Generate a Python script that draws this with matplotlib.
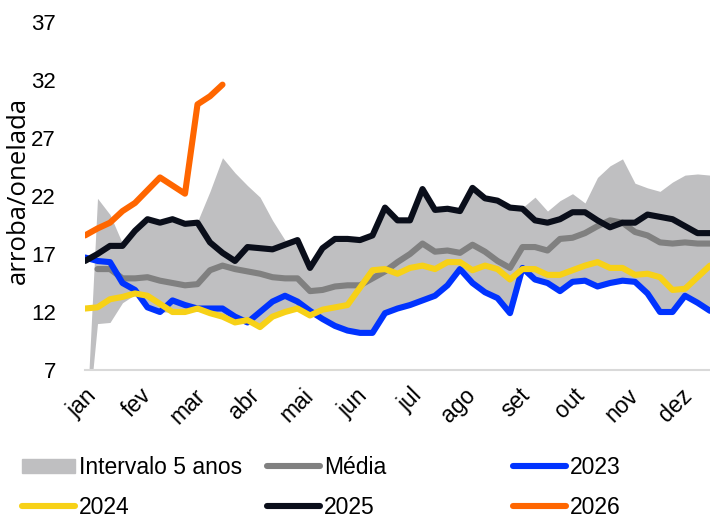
import numpy as np
import matplotlib
matplotlib.use('Agg')
import matplotlib.pyplot as plt
from matplotlib.lines import Line2D
from matplotlib.patches import Patch

# weekly series
months = ['jan', 'fev', 'mar', 'abr', 'mai', 'jun', 'jul', 'ago', 'set', 'out', 'nov', 'dez']

band_lo = [0, 11.0, 11.1, 12.8, 13.5, 12.4, 12.0, 12.0, 12.0, 12.3,
           11.9, 11.6, 11.1, 11.1, 10.7, 11.6, 12.0, 12.3, 11.7, 11.4,
           10.8, 10.4, 10.2, 10.2, 11.9, 12.3, 12.6, 13.0, 13.4, 14.3,
           15.7, 14.5, 13.7, 13.2, 11.9, 15.7, 14.8, 14.5, 13.8, 14.6,
           14.7, 14.2, 14.5, 14.7, 14.6, 13.6, 12.0, 12.0, 13.4, 12.8, 12.1]
band_hi = [0, 21.8, 20.4, 17.9, 19.0, 20.0, 19.7, 20.0, 19.6, 19.8,
           22.4, 25.3, 24.0, 22.9, 21.9, 19.9, 18.2, 18.2, 15.8, 17.5,
           18.3, 18.3, 18.3, 18.9, 21.0, 19.9, 19.9, 22.6, 20.8, 20.9,
           20.7, 22.7, 21.8, 21.6, 21.0, 21.0, 21.9, 20.7, 21.6, 22.2,
           21.4, 23.6, 24.6, 25.2, 23.1, 22.7, 22.4, 23.2, 23.8, 23.9, 23.8]
media = [np.nan, 15.7, 15.7, 14.9, 14.9, 15.0, 14.7, 14.5, 14.3, 14.4,
         15.6, 16.0, 15.7, 15.5, 15.3, 15.0, 14.9, 14.9, 13.8, 13.9,
         14.2, 14.3, 14.3, 14.9, 15.5, 16.3, 17.0, 17.9, 17.2, 17.3,
         17.1, 17.8, 17.2, 16.4, 15.8, 17.6, 17.6, 17.3, 18.3, 18.4,
         18.8, 19.4, 19.9, 19.7, 18.9, 18.6, 18.0, 17.9, 18.0, 17.9, 17.9]
y2023 = [16.7, 16.4, 16.3, 14.5, 13.9, 12.4, 12.0, 13.0, 12.6, 12.3,
         12.3, 12.3, 11.6, 11.1, 12.0, 12.9, 13.4, 12.9, 12.1, 11.4,
         10.8, 10.4, 10.2, 10.2, 11.9, 12.3, 12.6, 13.0, 13.4, 14.3,
         15.7, 14.5, 13.7, 13.2, 11.9, 15.8, 14.8, 14.5, 13.8, 14.6,
         14.7, 14.2, 14.5, 14.7, 14.6, 13.6, 12.0, 12.0, 13.4, 12.8, 12.1]
y2024 = [12.3, 12.4, 13.1, 13.3, 13.6, 13.4, 12.7, 12.0, 12.0, 12.3,
         11.9, 11.6, 11.1, 11.3, 10.7, 11.6, 12.0, 12.3, 11.7, 12.2,
         12.4, 12.6, 14.1, 15.6, 15.7, 15.3, 15.8, 16.0, 15.7, 16.3,
         16.3, 15.6, 16.0, 15.7, 14.8, 15.7, 15.7, 15.2, 15.2, 15.6,
         16.0, 16.3, 15.8, 15.8, 15.2, 15.3, 15.0, 13.9, 14.0, 15.0, 16.0]
y2025 = [16.4, 17.0, 17.7, 17.7, 19.0, 20.0, 19.7, 20.0, 19.6, 19.7,
         18.0, 17.1, 16.4, 17.6, 17.5, 17.4, 17.8, 18.2, 15.8, 17.5,
         18.3, 18.3, 18.2, 18.6, 21.0, 19.9, 19.9, 22.6, 20.8, 20.9,
         20.7, 22.7, 21.8, 21.6, 21.0, 20.9, 19.9, 19.7, 20.0, 20.6,
         20.6, 19.9, 19.3, 19.7, 19.7, 20.4, 20.2, 20.0, 19.4, 18.8, 18.8]
y2026 = [18.6, 19.2, 19.7, 20.7, 21.4, 22.5, 23.6, 22.9, 22.2, 29.9, 30.6, 31.6]

C_BAND = '#BFBFC1'
C_MEDIA = '#808080'
C_2023 = '#0033FF'
C_2024 = '#F7D117'
C_2025 = '#0A0E1A'
C_2026 = '#FF6600'

plt.rcParams['font.family'] = ['Liberation Sans', 'DejaVu Sans']
LW = 4.4

fig = plt.figure(figsize=(7.1, 5.21), dpi=100)
ax = fig.add_axes([85 / 710, 1 - 370 / 521, 625 / 710, 348 / 521])

x = np.arange(len(band_lo))
ax.fill_between(x, band_lo, band_hi, color=C_BAND, lw=0, zorder=1)
kw = dict(lw=LW, solid_joinstyle='round', solid_capstyle='round')
ax.plot(x, media, color=C_MEDIA, zorder=2, **kw)
ax.plot(x, y2023, color=C_2023, zorder=3, **kw)
ax.plot(x, y2024, color=C_2024, zorder=4, **kw)
ax.plot(x, y2025, color=C_2025, zorder=5, **kw)
ax.plot(np.arange(len(y2026)), y2026, color=C_2026, zorder=6, **kw)

ax.set_xlim(0, len(x) - 1)
ax.set_ylim(7, 37)
ax.set_yticks(np.arange(7, 38, 5))
ax.set_xticks(np.arange(12) * 52 / 12)
ax.set_xticklabels(months, rotation=45, ha='right', va='top', rotation_mode='anchor')
ax.tick_params(axis='y', length=0, pad=21, labelsize=16)
ax.tick_params(axis='x', length=0, pad=10, labelsize=16.5)
for s in ['top', 'right', 'left']:
    ax.spines[s].set_visible(False)
ax.spines['bottom'].set_color('#D9D9D9')
ax.spines['bottom'].set_linewidth(1.5)

fig.text(18 / 710, 1 - 190 / 521, 'arroba/onelada', rotation=90, ha='center', va='center',
         fontsize=18.5, family=['Open Sans', 'DejaVu Sans'])

def lh(c):
    return Line2D([], [], color=c, lw=LW, solid_capstyle='round')

cols = [
    (22, [Patch(color=C_BAND), lh(C_2024)], ['Intervalo 5 anos', '2024']),
    (267, [lh(C_MEDIA), lh(C_2025)], ['Média', '2025']),
    (513, [lh(C_2023), lh(C_2026)], ['2023', '2026']),
]
for xpx, handles, labels in cols:
    fig.legend(handles, labels, loc='upper left', bbox_to_anchor=(xpx / 710, 1 - 456 / 521),
               frameon=False, fontsize=16.5, borderpad=0, borderaxespad=0,
               handlelength=2.3, handleheight=0.62, handletextpad=0.2, labelspacing=0.72)

fig.savefig('out.png', dpi=100)
